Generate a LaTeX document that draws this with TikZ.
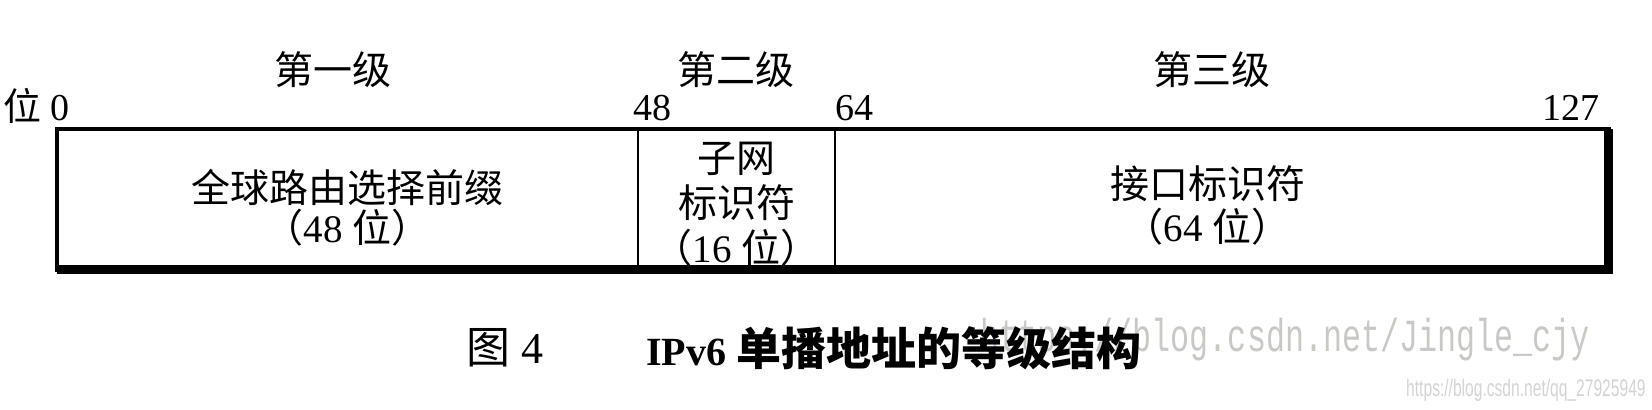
\documentclass[tikz,border=0pt]{standalone}
\usepackage{fontspec}
\setmainfont{Liberation Serif}
\newfontfamily\cjk{Noto Sans CJK SC}
\newfontfamily\wmmono[FakeStretch=0.69]{Liberation Mono}
\newfontfamily\wmsans[FakeStretch=0.65]{Liberation Sans}
\newcommand\zh[1]{{\cjk #1}}
\definecolor{wmgray}{RGB}{200,200,196}
\definecolor{wmlight}{RGB}{212,212,212}
\usetikzlibrary{positioning}

\begin{document}
\begin{tikzpicture}[
    x = 0.5pt, y = -0.5pt,
    node distance = 0pt,
    cellstyle/.style  = {draw,
                         line width=1.2pt,
                         minimum height=70.25pt,
                         inner sep=0pt,
                         outer sep=0pt},
    textstyle/.style  = {align=center,
                         inner sep=0pt,
                         font=\fontsize{19.5}{21.5}\selectfont},
    levelstyle/.style = {inner sep=0pt,
                         font=\cjk\fontsize{19.5}{22}\selectfont},
    bitstyle/.style   = {inner sep=0pt,
                         font=\fontsize{19}{22}\selectfont},
    boxline/.style    = {line width=2.25pt},
    shadowline/.style = {line width=4.5pt,
                         line join=miter}
]
\useasboundingbox (0,0) rectangle (1652,410);
% three fields of the address
\node (f0) [cellstyle, minimum width=290.5pt] at (347.5,199.25) {};
\node (f1) [cellstyle, minimum width=98.5pt, right=of f0] {};
\node (f2) [cellstyle, minimum width=386.75pt, right=of f1] {};
\draw[boxline] (f0.north west) rectangle (f2.south east);
\draw[shadowline] (f0.south west) -- (f2.south east) -- (f2.north east);
\node (t0) [textstyle, font=\fontsize{19.5}{20}\selectfont] at ([yshift=-4.5pt]f0.center) {
\zh{全球路由选择前缀} \\
\zh{（}48 \zh{位）}
};
\node (t1) [textstyle, font=\fontsize{19.5}{22.5}\selectfont] at ([yshift=-2.5pt]f1.center) {
\zh{子网} \\
\zh{标识符} \\
\zh{（}16 \zh{位）}
};
\node (t2) [textstyle] at ([xshift=-7pt, yshift=-3pt]f2.center) {
\zh{接口标识符} \\
\zh{（}64 \zh{位）}
};
% levels and bit positions
\node (l1) [levelstyle] at (333,70)  {第一级};
\node (l2) [levelstyle] at (736,70)  {第二级};
\node (l3) [levelstyle] at (1212,70) {第三级};
\node (b0)   [bitstyle, anchor=base west] at (3,121)    {\zh{位} 0};
\node (b48)  [bitstyle, anchor=base west] at (633,121)  {48};
\node (b64)  [bitstyle, anchor=base west] at (835,121)  {64};
\node (b127) [bitstyle, anchor=base east] at (1600,121) {127};
% watermarks, then the caption on top
\node (w1) [anchor=west, inner sep=0pt, text=wmgray,
            font=\wmmono\fontsize{23}{24}\selectfont] at (980,340) {https://blog.csdn.net/Jingle\_cjy};
\node (w2) [anchor=east, inner sep=0pt, text=wmlight,
            font=\wmsans\fontsize{12}{13}\selectfont] at (1646,390) {https://blog.csdn.net/qq\_27925949};
\node (c0) [anchor=west, inner sep=0pt, font=\fontsize{22}{24}\selectfont] at (466,348) {\zh{图} 4};
\node (c1) [anchor=west, inner sep=0pt, font=\bfseries\fontsize{20}{24}\selectfont] at (646,348) {IPv6 {\cjk\fontsize{22.5}{24}\selectfont 单播地址的等级结构}};
\end{tikzpicture}
\end{document}
